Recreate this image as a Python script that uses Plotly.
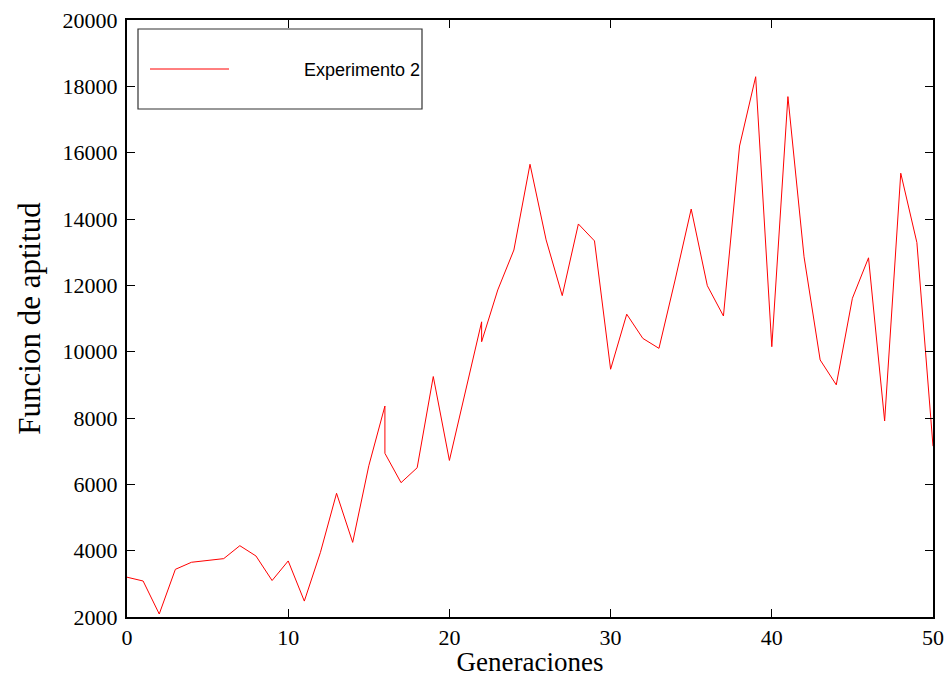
import plotly.graph_objects as go

generaciones = [0, 1, 2, 3, 4, 5, 6, 7, 8, 9, 10, 11, 12, 13, 14, 15, 16, 16, 17, 18, 19, 20,
                21, 22, 22, 23, 24, 25, 26, 27, 28, 29, 30, 31, 32, 33, 34, 35, 36, 37, 38, 39,
                40, 41, 42, 43, 44, 45, 46, 47, 48, 49, 50]
aptitud = [3200, 3085, 2090, 3437, 3650, 3700, 3760, 4150, 3840, 3100, 3690, 2480, 3950, 5730,
           4250, 6560, 8360, 6935, 6050, 6500, 9250, 6720,
           8800, 10900, 10300, 11860, 13065, 15650, 13370, 11690, 13850, 13340, 9470, 11130,
           10400, 10100, 12160, 14300, 11990, 11075, 16200, 18290,
           10150, 17690, 12860, 9750, 9000, 11610, 12830, 7910, 15380, 13290, 7150]
x_ticks = [0, 10, 20, 30, 40, 50]
y_ticks = [2000, 4000, 6000, 8000, 10000, 12000, 14000, 16000, 18000, 20000]
serie = "Experimento 2"

SERIF = "Liberation Serif, Times New Roman, serif"
SANS = "Liberation Sans, Arial, sans-serif"

fig = go.Figure()
fig.add_trace(go.Scatter(x=generaciones, y=aptitud, mode="lines", name=serie,
                         line=dict(color="#ff0000", width=1), showlegend=False))

L, R, T, B = 127, 933, 20, 617
W = R - L
H = B - T

def px(x):
    return (x - L) / W

def py(y):
    return (B - y) / H

# legend box
fig.add_shape(type="rect", xref="paper", yref="paper", x0=px(138), x1=px(422), y0=py(109), y1=py(29),
              line=dict(color="#333333", width=1.2), fillcolor="white")
fig.add_shape(type="line", xref="paper", yref="paper", x0=px(150), x1=px(229), y0=py(69), y1=py(69),
              line=dict(color="#ff0000", width=1))
fig.add_annotation(xref="paper", yref="paper", x=px(422), y=py(70), text=serie, showarrow=False,
                   xanchor="right", yanchor="middle",
                   font=dict(family=SANS, size=18, color="black"))

axis_common = dict(showline=True, linecolor="black", linewidth=2, mirror="ticks",
                   ticks="inside", ticklen=8, tickwidth=1.3, tickcolor="black",
                   showgrid=False, zeroline=False, automargin=False,
                   tickfont=dict(family=SERIF, size=22, color="black"))

fig.update_xaxes(range=[0, 50], tickvals=x_ticks, ticktext=[str(v) for v in x_ticks],
                 title=dict(text="Generaciones", standoff=3,
                            font=dict(family=SERIF, size=27, color="black")),
                 **axis_common)
fig.update_yaxes(range=[2000, 20000], tickvals=y_ticks, ticktext=[str(v) for v in y_ticks],
                 ticklabelstandoff=3,
                 title=dict(text="Funcion de aptitud", standoff=13,
                            font=dict(family=SERIF, size=31, color="black")),
                 **axis_common)

fig.update_layout(width=952, height=677, plot_bgcolor="white", paper_bgcolor="white",
                  margin=dict(l=L, r=952 - R, t=T, b=677 - B, pad=0), showlegend=False)

fig.write_html("out.html")
